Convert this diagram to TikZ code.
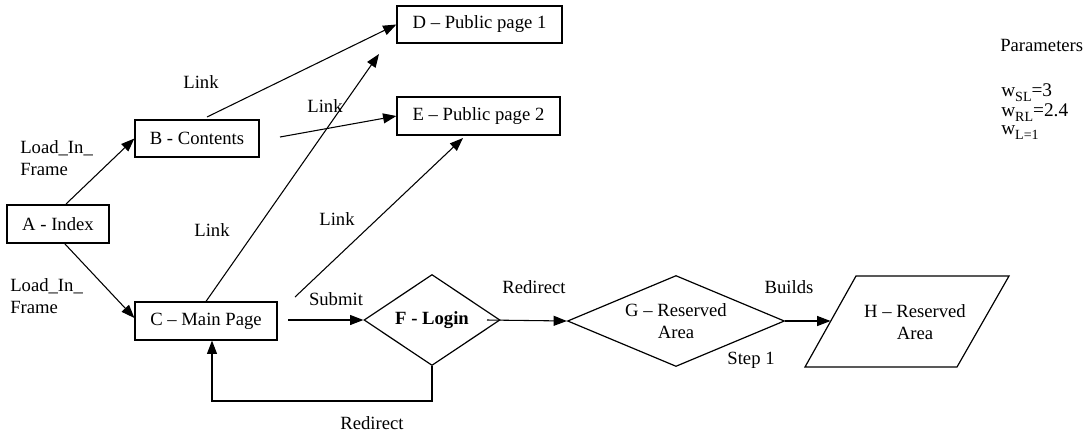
\documentclass[tikz,border=0pt]{standalone}
\usepackage{fontspec}
\setmainfont{Liberation Serif}
\usetikzlibrary{arrows.meta,shapes.geometric,calc}

\newcommand{\lowidx}[1]{\raisebox{-0.28em}{\fontsize{10.5}{10.5}\selectfont #1}}

\begin{document}
\begin{tikzpicture}[x=0.75pt,y=-0.75pt,
  font=\fontsize{14}{16.5}\selectfont,
  pagebox/.style={draw, line width=0.9pt, inner sep=0pt, align=center},
  choice/.style={diamond, draw, line width=0.9pt, inner sep=0pt, align=center},
  shapeline/.style={draw, line width=0.9pt},
  link/.style={line width=0.8pt, -{Triangle[length=10pt,width=7.5pt]}},
  lbl/.style={inner sep=0pt},
  weight/.style={inner sep=0pt, anchor=base west, font=\fontsize{14.5}{14.5}\selectfont}]

\useasboundingbox (0,0) rectangle (1086,437);

% pages
\node[pagebox, minimum width=76.5pt,  minimum height=28.5pt]  (A) at (58,224)    {A - Index};
\node[pagebox, minimum width=93pt,    minimum height=27.75pt] (B) at (197,138.5) {B - Contents};
\node[pagebox, minimum width=106.5pt, minimum height=28.5pt]  (C) at (206,321)   {C – Main Page};
\node[pagebox, minimum width=123.75pt,minimum height=27.75pt] (D) at (479.5,24.5){D – Public page 1};
\node[pagebox, minimum width=122.25pt,minimum height=28.5pt]  (E) at (478.5,116) {E – Public page 2};

% decisions
\node[choice, aspect=1.5, minimum width=102pt, minimum height=68.25pt,
      font=\fontsize{14}{16.5}\selectfont\bfseries] (F) at (432,320) {F - Login};
\node[choice, aspect=2.385, minimum width=162.75pt, minimum height=68.25pt] (G) at (676,321) {G – Reserved\\Area};

% reserved area (parallelogram)
\draw[shapeline] (856,276) -- (1009,276) -- (957,367) -- (805,367) -- cycle;
\node[lbl, align=center] (H) at (915,322) {H – Reserved\\Area};
\coordinate (Hin) at (830.5,321);

% free connector ends
\coordinate (a1) at (66,204);
\coordinate (a2) at (65,244);
\coordinate (b1) at (207,117);
\coordinate (b2) at (280,137);
\coordinate (d1) at (379,54);
\coordinate (c2) at (295,297);
\coordinate (e1) at (463,138);
\coordinate (c3) at (288,320);
\coordinate (f1) at (487,320);
\coordinate (loop) at (212,401);

% connectors
\draw[link] (a1) -- (B.west);
\draw[link] (a2) -- ($(C.west)+(0,-3)$);
\draw[link] (b1) -- (D.west);
\draw[link] (b2) -- (E.west);
\draw[link] (C.north) -- (d1);
\draw[link] (c2) -- (e1);
\draw[link] (c3) -- (F.west);
\draw[link] (f1) -- (G.west);
\draw[link] (G.east) -- (Hin);
\draw[link] (F.south) |- (loop) -- (loop |- C.south);

% connector labels
\node[lbl, align=left, anchor=west] (lf1) at (20,158.5) {Load\_In\_\\Frame};
\node[lbl, align=left, anchor=west] (lf2) at (10,296.5) {Load\_In\_\\Frame};
\node[lbl] (lk1) at (201,82)  {Link};
\node[lbl] (lk2) at (325,106) {Link};
\node[lbl] (lk3) at (212,230) {Link};
\node[lbl] (lk4) at (337,219) {Link};
\node[lbl] (sub) at (336,299) {Submit};
\node[lbl] (rd1) at (534,287) {Redirect};
\node[lbl] (bld) at (789,287) {Builds};
\node[lbl] (st1) at (751,360) {Step 1};
\node[lbl] (rd2) at (372,423) {Redirect};

% parameters
\node[lbl, anchor=west] (par) at (1000,45) {Parameters};
\node[weight] (wsl) at (1001,96.5)  {w\lowidx{SL}=3};
\node[weight] (wrl) at (1001,116)   {w\lowidx{RL}=2.4};
\node[weight] (wl)  at (1001,134.5) {w\lowidx{L=1}};
\end{tikzpicture}
\end{document}
